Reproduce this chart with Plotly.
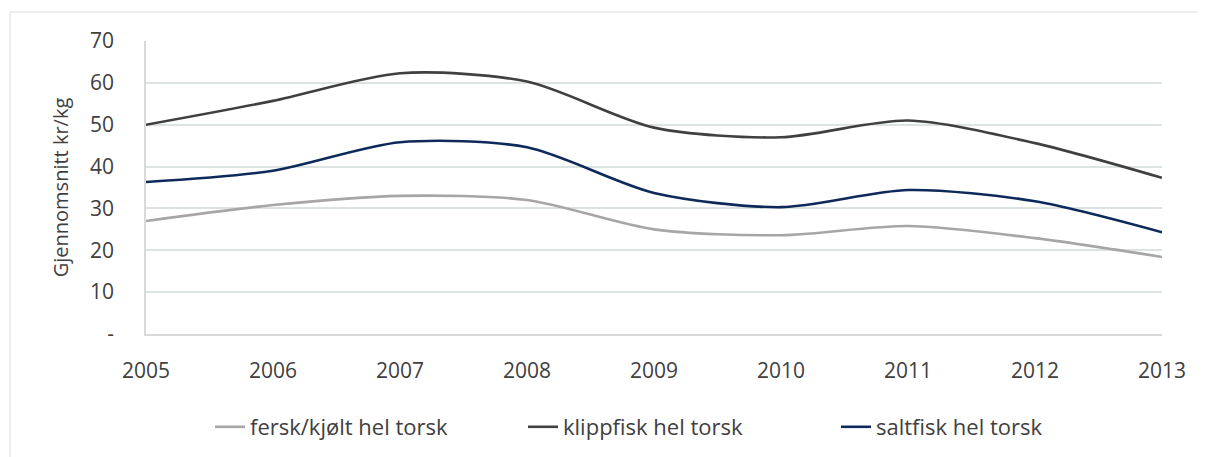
import plotly.graph_objects as go

# gjennomsnittspris per år, lest av figuren
years = [2005, 2006, 2007, 2008, 2009, 2010, 2011, 2012, 2013]
fersk = [27.0, 30.8, 33.0, 32.0, 25.0, 23.6, 25.8, 22.9, 18.4]
klippfisk = [50.0, 55.7, 62.3, 60.3, 49.3, 47.0, 51.0, 45.6, 37.3]
saltfisk = [36.3, 39.0, 45.8, 44.6, 33.7, 30.3, 34.4, 31.7, 24.3]

y_ticks = [0, 10, 20, 30, 40, 50, 60, 70]
y_ticktext = ["-", "10", "20", "30", "40", "50", "60", "70"]

series = [
    ("fersk/kjølt hel torsk", fersk, "#a6a6a6"),
    ("klippfisk hel torsk", klippfisk, "#404040"),
    ("saltfisk hel torsk", saltfisk, "#0e2a5a"),
]

fig = go.Figure()
for name, vals, col in series:
    fig.add_trace(go.Scatter(x=years, y=vals, name=name, mode="lines",
                             line=dict(color=col, width=2.6, shape="spline", smoothing=0.8)))

txt = "#404040"
# siden har 8px marg rundt, så plottet flyttes tilsvarende
fig.update_layout(
    width=1205, height=457,
    margin=dict(l=138, r=51, t=33, b=131, autoexpand=False),
    paper_bgcolor="white", plot_bgcolor="white",
    font=dict(family="Open Sans, Liberation Sans, sans-serif", size=20, color=txt),
    showlegend=True,
    legend=dict(orientation="h", x=(210 - 146) / 1016, xanchor="left",
                y=-(427 - 334) / 293, yanchor="middle",
                font=dict(size=22, color=txt), entrywidth=268, entrywidthmode="pixels",
                traceorder="normal"),
    shapes=[dict(type="rect", xref="paper", yref="paper",
                 x0=(10 - 146) / 1016, x1=(1225 - 146) / 1016,
                 y0=-(480 - 334) / 293, y1=1 + (41 - 12) / 293,
                 line=dict(color="#d9d9d9", width=1), layer="below")],
)

fig.update_xaxes(range=[2005, 2013], tickvals=years, showgrid=False, automargin=False,
                 showline=True, linecolor="#d9d9d9", linewidth=1.5,
                 ticks="", ticklabelstandoff=17, tickfont=dict(size=21, color=txt))
fig.update_yaxes(range=[0, 70], tickvals=y_ticks, ticktext=y_ticktext, automargin=False,
                 showgrid=True, gridcolor="#dde2e2", gridwidth=1.5,
                 showline=True, linecolor="#d9d9d9", linewidth=1.5, zeroline=False,
                 ticks="", ticklabelstandoff=26, tickfont=dict(size=21, color=txt),
                 title=dict(text="Gjennomsnitt kr/kg", font=dict(size=20, color=txt), standoff=16))

fig.write_html("out.html")
